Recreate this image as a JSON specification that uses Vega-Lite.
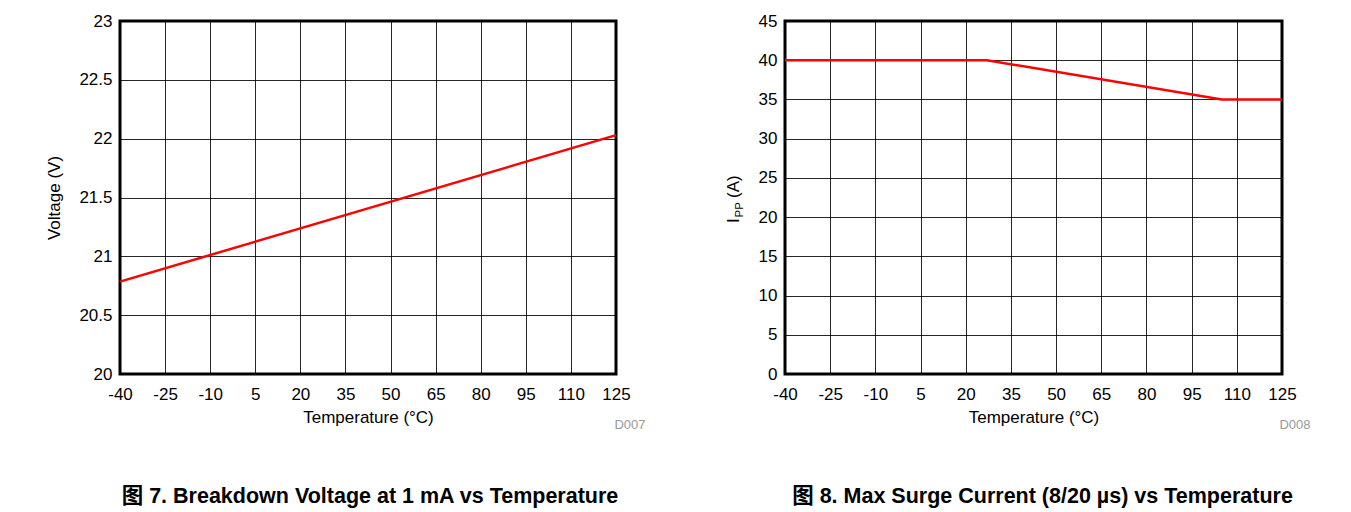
{
  "$schema": "https://vega.github.io/schema/vega-lite/v6.json",
  "padding": {"left": 44, "top": 10, "right": 0, "bottom": 0},
  "spacing": 76,
  "background": "white",
  "config": {
    "font": "Liberation Sans",
    "view": {"stroke": "#000", "strokeWidth": 3},
    "axis": {
      "labelFont": "Liberation Sans",
      "titleFont": "Liberation Sans",
      "labelFontSize": 17,
      "titleFontSize": 17,
      "labelColor": "#000",
      "titleColor": "#000",
      "titleFontWeight": "normal",
      "ticks": false,
      "domain": false,
      "gridColor": "#000",
      "gridWidth": 1,
      "gridOpacity": 0.85
    },
    "title": {"font": "Liberation Sans, Noto Sans CJK SC", "fontSize": 21.5, "fontWeight": "bold", "color": "#000"}
  },
  "datasets": {
    "bv": [
      {"temp": -40, "volt": 20.785},
      {"temp": 125, "volt": 22.03}
    ],
    "ipp": [
      {"temp": -40, "ipp": 40},
      {"temp": 27, "ipp": 40},
      {"temp": 105, "ipp": 35},
      {"temp": 125, "ipp": 35}
    ]
  },
  "hconcat": [
    {
      "width": 496,
      "height": 353,
      "title": {"text": "图 7. Breakdown Voltage at 1 mA vs Temperature", "orient": "bottom", "anchor": "middle", "frame": "group", "offset": 55, "dx": 2},
      "data": {"name": "bv"},
      "layer": [
        {
          "mark": {"type": "line", "color": "#ff0000", "strokeWidth": 2.5},
          "encoding": {
            "x": {"field": "temp", "type": "quantitative", "scale": {"domain": [-40, 125], "nice": false},
              "axis": {"values": [-40, -25, -10, 5, 20, 35, 50, 65, 80, 95, 110, 125], "labelExpr": "'' + datum.value", "title": "Temperature (°C)", "labelPadding": 12, "titlePadding": 7, "labelFlush": false}},
            "y": {"field": "volt", "type": "quantitative", "scale": {"domain": [20, 23], "nice": false, "zero": false},
              "axis": {"values": [20, 20.5, 21, 21.5, 22, 22.5, 23], "labelExpr": "'' + datum.value", "title": "Voltage (V)", "labelPadding": 8, "titlePadding": 15, "labelFlush": false}}
          }
        },
        {
          "mark": {"type": "line", "strokeOpacity": 0},
          "encoding": {
            "x": {"field": "temp", "type": "quantitative",
              "axis": {"orient": "bottom", "labels": false, "grid": false, "title": "D007", "titleColor": "#999999", "titleFontSize": 13, "titleX": 525, "titleY": 50, "titleAlign": "right", "titleBaseline": "middle", "titleAngle": 0}},
            "y": {"field": "volt", "type": "quantitative"}
          }
        }
      ],
      "resolve": {"axis": {"x": "independent"}}
    },
    {
      "width": 497,
      "height": 353,
      "title": {"text": "图 8. Max Surge Current (8/20 µs) vs Temperature", "orient": "bottom", "anchor": "middle", "frame": "group", "offset": 55, "dx": 9},
      "data": {"name": "ipp"},
      "layer": [
        {
          "mark": {"type": "line", "color": "#ff0000", "strokeWidth": 2.5},
          "encoding": {
            "x": {"field": "temp", "type": "quantitative", "scale": {"domain": [-40, 125], "nice": false},
              "axis": {"values": [-40, -25, -10, 5, 20, 35, 50, 65, 80, 95, 110, 125], "labelExpr": "'' + datum.value", "title": "Temperature (°C)", "labelPadding": 12, "titlePadding": 7, "labelFlush": false}},
            "y": {"field": "ipp", "type": "quantitative", "scale": {"domain": [0, 45], "nice": false},
              "axis": {"values": [0, 5, 10, 15, 20, 25, 30, 35, 40, 45], "labelExpr": "'' + datum.value", "title": "I", "labelPadding": 8, "labelFlush": false,
                "titleX": -46.5, "titleY": 201.5, "titleAlign": "left", "titleBaseline": "alphabetic", "titleAngle": -90}}
          }
        },
        {
          "mark": {"type": "line", "strokeOpacity": 0},
          "encoding": {
            "x": {"field": "temp", "type": "quantitative",
              "axis": {"orient": "bottom", "labels": false, "grid": false, "title": "D008", "titleColor": "#999999", "titleFontSize": 13, "titleX": 525, "titleY": 50, "titleAlign": "right", "titleBaseline": "middle", "titleAngle": 0}},
            "y": {"field": "ipp", "type": "quantitative",
              "axis": {"orient": "left", "labels": false, "grid": false, "title": "PP", "titleFontSize": 11.5,
                "titleX": -43, "titleY": 196, "titleAlign": "left", "titleBaseline": "alphabetic", "titleAngle": -90}}
          }
        },
        {
          "mark": {"type": "line", "strokeOpacity": 0},
          "encoding": {
            "x": {"field": "temp", "type": "quantitative", "axis": null},
            "y": {"field": "ipp", "type": "quantitative",
              "axis": {"orient": "left", "labels": false, "grid": false, "title": "(A)",
                "titleX": -46.5, "titleY": 176.5, "titleAlign": "left", "titleBaseline": "alphabetic", "titleAngle": -90}}
          }
        }
      ],
      "resolve": {"axis": {"x": "independent", "y": "independent"}}
    }
  ]
}
